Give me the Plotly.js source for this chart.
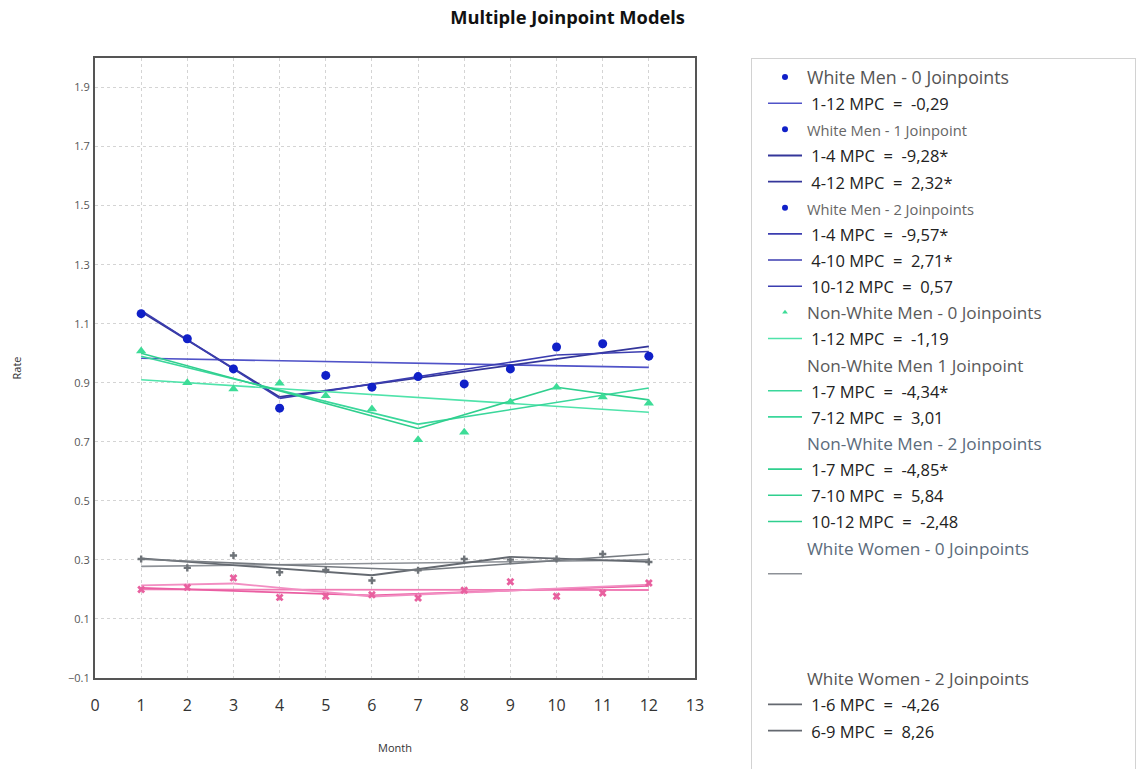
<!DOCTYPE html>
<html><head><meta charset="utf-8">
<script src="https://cdn.plot.ly/plotly-3.0.1.min.js"></script>
<style>html,body{margin:0;padding:0;background:#fff;} #chart{width:1142px;height:769px;}</style>
</head><body><div id="chart"></div>
<script>
// ---- observed monthly rates ----
const months = [1,2,3,4,5,6,7,8,9,10,11,12];
const whiteMen      = [1.134,1.049,0.947,0.814,0.925,0.885,0.921,0.896,0.947,1.021,1.032,0.990];
const nonWhiteMen   = [1.008,0.900,0.879,0.898,0.856,0.811,0.707,0.732,0.835,0.885,0.852,0.831];
const whiteWomen    = [0.303,0.273,0.315,0.258,0.266,0.230,0.265,0.303,0.301,0.303,0.320,0.293];
const nonWhiteWomen = [0.200,0.207,0.239,0.173,0.177,0.182,0.171,0.197,0.226,0.177,0.188,0.222];

// ---- joinpoint model fits: knot months and fitted rates ----
const wm0X = [1,12],        wm0Y = [0.983,0.952];
const wm1X = [1,4,12],      wm1Y = [1.141,0.852,1.023];
const wm2X = [1,4,10,12],   wm2Y = [1.145,0.847,0.994,1.006];
const nwm0X = [1,12],       nwm0Y = [0.910,0.800];
const nwm1X = [1,7,12],     nwm1Y = [0.990,0.760,0.882];
const nwm2X = [1,7,10,12],  nwm2Y = [1.000,0.745,0.885,0.842];
const ww0X = [1,12],        ww0Y = [0.278,0.300];
const ww1X = [1,7,12],      ww1Y = [0.302,0.265,0.320];
const ww2X = [1,6,9,12],    ww2Y = [0.305,0.248,0.310,0.293];
const nww0X = [1,12],       nww0Y = [0.200,0.198];
const nww1X = [1,6,12],     nww1Y = [0.205,0.180,0.212];
const nww2X = [1,3,6,12],   nww2Y = [0.214,0.220,0.176,0.216];

// ---- legend labels ----
const wm0Labels  = ["1-12 MPC  =  -0,29"];
const wm1Labels  = ["1-4 MPC  =  -9,28*", "4-12 MPC  =  2,32*"];
const wm2Labels  = ["1-4 MPC  =  -9,57*", "4-10 MPC  =  2,71*", "10-12 MPC  =  0,57"];
const nwm0Labels = ["1-12 MPC  =  -1,19"];
const nwm1Labels = ["1-7 MPC  =  -4,34*", "7-12 MPC  =  3,01"];
const nwm2Labels = ["1-7 MPC  =  -4,85*", "7-10 MPC  =  5,84", "10-12 MPC  =  -2,48"];
const ww2Labels  = ["1-6 MPC  =  -4,26", "6-9 MPC  =  8,26"];
const headers = {
  wm0: "White Men - 0 Joinpoints", wm1: "White Men - 1 Joinpoint", wm2: "White Men - 2 Joinpoints",
  nwm0: "Non-White Men - 0 Joinpoints", nwm1: "Non-White Men 1 Joinpoint", nwm2: "Non-White Men - 2 Joinpoints",
  ww0: "White Women - 0 Joinpoints", ww2: "White Women - 2 Joinpoints"
};

const FONT = "Open Sans, Noto Sans, sans-serif";
const NB = "\u00a0";
function nb(s){ return s.replace(/ /g, NB); }
function mpcName(s){ return '<span style="font-size:16.5px;fill:#222">' + NB + nb(s) + '</span>'; }
function headName(s, size, color){ return '<span style="font-size:' + size + 'px;fill:' + color + '">' + nb(s) + '</span>'; }

const traces = [];
function header(name, symbol, color, size){
  traces.push({x:[null], y:[null], type:'scatter', mode:'markers', name:name, hoverinfo:'skip',
    marker:{symbol:symbol, color:color, size:size}});
}
function blankRow(){
  traces.push({x:[null], y:[null], type:'scatter', mode:'markers', name:NB, hoverinfo:'skip',
    marker:{color:'rgba(0,0,0,0)', size:1}});
}
function segments(X, Y, labels, color, width){
  for(let i=0;i<X.length-1;i++){
    const lab = labels ? labels[i] : undefined;
    traces.push({x:X.slice(i,i+2), y:Y.slice(i,i+2), type:'scatter', mode:'lines',
      name: lab !== undefined ? (lab === null ? NB : mpcName(lab)) : NB,
      showlegend: lab !== undefined,
      line:{color:color, width:width}});
  }
}

const cWM0 = '#5053c8', cWM1 = '#34369a', cWM2 = '#3b3db0';
const cN0 = '#4fe3aa', cN1 = '#3ad79b', cN2 = '#2fcf8e';
const cW0 = '#8d9197', cW1 = '#767b81', cW2 = '#646970';
const cP0 = '#f07ab4', cP1 = '#ea5ea2', cP2 = '#f28ec2';

// legend rows in order
header(headName(headers.wm0 + NB.repeat(26), 17.8, '#555'), 'circle', '#1020c8', 6);
segments(wm0X, wm0Y, wm0Labels, cWM0, 1.6);
header(headName(headers.wm1, 14.7, '#666'), 'circle', '#1020c8', 6);
segments(wm1X, wm1Y, wm1Labels, cWM1, 1.8);
header(headName(headers.wm2, 14.7, '#666'), 'circle', '#1020c8', 6);
segments(wm2X, wm2Y, wm2Labels, cWM2, 1.6);
header(headName(headers.nwm0, 17.2, '#5a5a5a'), 'triangle-up', '#3ddc97', 5);
segments(nwm0X, nwm0Y, nwm0Labels, cN0, 1.6);
header(headName(headers.nwm1, 17.2, '#5a5a5a'), 'circle', 'rgba(0,0,0,0)', 1);
segments(nwm1X, nwm1Y, nwm1Labels, cN1, 1.6);
header(headName(headers.nwm2, 17.2, '#5b6b7b'), 'circle', 'rgba(0,0,0,0)', 1);
segments(nwm2X, nwm2Y, nwm2Labels, cN2, 1.6);
header(headName(headers.ww0, 17.2, '#5b6b7b'), 'circle', 'rgba(0,0,0,0)', 1);
segments(ww0X, ww0Y, [null], cW0, 1.6);
blankRow(); blankRow(); blankRow();
header(headName(headers.ww2, 17.2, '#555'), 'circle', 'rgba(0,0,0,0)', 1);
segments(ww2X, ww2Y, ww2Labels, cW2, 1.8);
blankRow();

// lines without legend rows
segments(ww1X, ww1Y, null, cW1, 1.6);
segments(nww0X, nww0Y, null, cP0, 1.8);
segments(nww1X, nww1Y, null, cP1, 1.8);
segments(nww2X, nww2Y, null, cP2, 1.8);

// observed points
traces.push({x:months, y:whiteWomen, type:'scatter', mode:'markers', showlegend:false,
  marker:{symbol:'cross', size:6, color:'#6e7378'}});
traces.push({x:months, y:nonWhiteWomen, type:'scatter', mode:'markers', showlegend:false,
  marker:{symbol:'x', size:7, color:'#e8609f'}});
traces.push({x:months, y:nonWhiteMen, type:'scatter', mode:'markers', showlegend:false,
  marker:{symbol:'triangle-up', size:9, color:'#3ddc97'}});
traces.push({x:months, y:whiteMen, type:'scatter', mode:'markers', showlegend:false,
  marker:{symbol:'circle', size:9, color:'#1020c8'}});

const layout = {
  width:1142, height:769,
  paper_bgcolor:'#fff', plot_bgcolor:'#fff',
  margin:{l:95, r:447, t:58, b:91, autoexpand:false},
  font:{family:FONT, color:'#333'},
  title:{text:'<b>Multiple Joinpoint Models</b>', x:0.497, xanchor:'center', y:1-18/769, yanchor:'middle', yref:'container',
    font:{family:FONT, size:18.3, color:'#111'}},
  xaxis:{range:[0,13], tick0:0, dtick:1, showgrid:true, gridcolor:'#d4d4d4', griddash:'dot', gridwidth:1,
    zeroline:false, showline:true, mirror:true, linecolor:'#555', linewidth:2, ticks:'',
    tickfont:{family:FONT, size:16, color:'#333'}, ticklabelstandoff:12,
    title:{text:'Month', font:{family:FONT, size:11, color:'#333'}, standoff:29}},
  yaxis:{range:[-0.1,2.0], tick0:-0.1, dtick:0.2, showgrid:true, gridcolor:'#d4d4d4', griddash:'dot', gridwidth:1,
    zeroline:false, showline:true, mirror:true, linecolor:'#555', linewidth:2, ticks:'',
    tickfont:{family:FONT, size:11, color:'#555'}, ticklabelstandoff:1,
    title:{text:'Rate', font:{family:FONT, size:11, color:'#333'}, standoff:44}},
  legend:{x:(751-95)/600, xanchor:'left', y:1, yanchor:'top', bgcolor:'#fff', bordercolor:'#d2d2d2', borderwidth:1,
    font:{family:FONT, size:17.8, color:'#222'}, itemwidth:34, indentation:11, maxheight:1200,
    traceorder:'normal', itemclick:false, itemdoubleclick:false},
  showlegend:true
};

Plotly.newPlot('chart', traces, layout, {displayModeBar:false, staticPlot:true});
</script></body></html>
